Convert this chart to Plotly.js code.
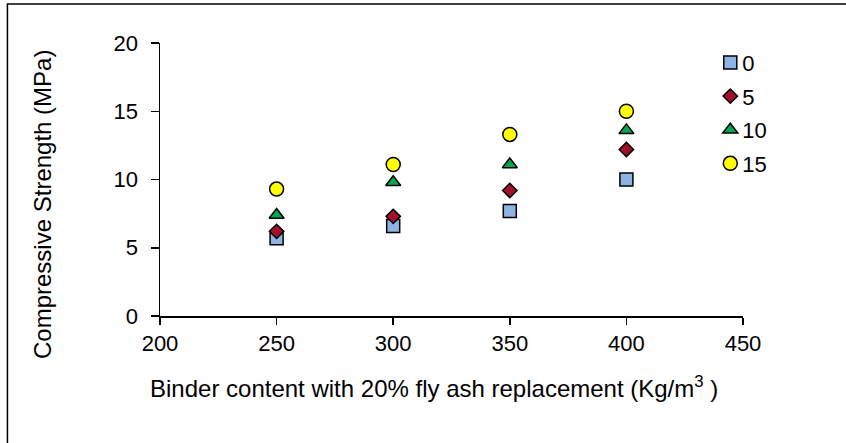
<!DOCTYPE html>
<html>
<head>
<meta charset="utf-8">
<script src="https://cdn.plot.ly/plotly-3.0.1.min.js"></script>
<style>
  html, body { margin: 0; padding: 0; background: #ffffff; }
  #chart { width: 846px; height: 443px; }
</style>
</head>
<body>
<div id="chart"></div>
<script>
// Binder content (kg/m3) on the x axis
const binderContent = [250, 300, 350, 400];

// Fly ash replacement levels shown in the legend
const seriesNames = ['0', '5', '10', '15'];

// Compressive strength (MPa) for each replacement level
const strength0  = [5.7, 6.6, 7.7, 10.0];
const strength5  = [6.2, 7.3, 9.2, 12.2];
const strength10 = [7.4, 9.8, 11.1, 13.6];
const strength15 = [9.3, 11.1, 13.3, 15.0];

const xTicks = [200, 250, 300, 350, 400, 450];
const yTicks = [0, 5, 10, 15, 20];

const xTitle = 'Binder content with 20% fly ash replacement (Kg/m<sup>3</sup> )';
const yTitle = 'Compressive Strength (MPa)';

const FONT = 'Liberation Sans, Arial, sans-serif';
const FS = 22;       // ticks and legend
const FS_TITLE = 24; // axis titles

const styles = [
  { symbol: 'square',       size: 13, color: '#8DB4E2' },
  { symbol: 'diamond',      size: 11, color: '#A50F2D' },
  { symbol: 'triangle-up',  size: 13, color: '#00A651' },
  { symbol: 'circle',       size: 14, color: '#FFFF00' }
];

const values = [strength0, strength5, strength10, strength15];

const traces = values.map((ys, i) => ({
  type: 'scatter',
  mode: 'markers',
  name: seriesNames[i],
  legendgroup: 'g' + i,
  x: binderContent,
  y: ys,
  marker: {
    symbol: styles[i].symbol,
    size: styles[i].size,
    color: styles[i].color,
    line: { color: '#000000', width: 1.5 }
  },
  hoverinfo: 'x+y+name'
}));

// Plot area in pixels, used to place the frame and titles in paper units
const L = 160, R = 103.3, T = 43.3, B = 127.3;
const W = 846 - L - R, H = 443 - T - B;
const px = v => (v - L) / W;
const py = v => (443 - B - v) / H;

const axisCommon = {
  ticks: 'outside',
  tickwidth: 1.5,
  tickcolor: '#000000',
  showline: true,
  linecolor: '#000000',
  linewidth: 1.5,
  showgrid: false,
  zeroline: false,
  tickfont: { family: FONT, size: FS, color: '#000000' },
  fixedrange: true
};

const layout = {
  width: 846,
  height: 443,
  margin: { l: L, r: R, t: T, b: B, pad: 0 },
  paper_bgcolor: '#ffffff',
  plot_bgcolor: '#ffffff',
  font: { family: FONT, size: FS, color: '#000000' },
  showlegend: true,
  legend: {
    x: px(710), y: py(42), xanchor: 'left', yanchor: 'top',
    font: { family: FONT, size: FS, color: '#000000' },
    bgcolor: 'rgba(0,0,0,0)',
    tracegroupgap: 2,
    itemwidth: 30
  },
  xaxis: Object.assign({
    range: [200, 450],
    tickvals: xTicks,
    ticktext: xTicks.map(String),
    ticklen: 7
  }, axisCommon),
  yaxis: Object.assign({
    range: [0, 20],
    tickvals: yTicks,
    ticktext: yTicks.map(String),
    ticklen: 8,
    ticklabelstandoff: 8
  }, axisCommon),
  annotations: [
    {
      text: xTitle, showarrow: false,
      xref: 'paper', yref: 'paper',
      x: px(434), y: py(387), xanchor: 'center', yanchor: 'middle',
      font: { family: FONT, size: FS_TITLE, color: '#000000' }
    },
    {
      text: yTitle, showarrow: false, textangle: -90,
      xref: 'paper', yref: 'paper',
      x: px(42), y: py(204), xanchor: 'center', yanchor: 'middle',
      font: { family: FONT, size: FS_TITLE, color: '#000000' }
    }
  ],
  shapes: [
    {
      type: 'rect', xref: 'paper', yref: 'paper',
      x0: px(7.5), x1: px(870), y0: py(470), y1: py(4.5),
      line: { color: '#000000', width: 1.5 },
      fillcolor: 'rgba(0,0,0,0)',
      layer: 'below'
    }
  ]
};

Plotly.newPlot('chart', traces, layout, { displayModeBar: false, staticPlot: true })
  .then(gd => {
    // pull the legend labels a little closer to their symbols
    gd.querySelectorAll('.legend .legendtext').forEach(t => {
      const x = parseFloat(t.getAttribute('x')) || 0;
      t.setAttribute('x', x - 8);
    });
  });
</script>
</body>
</html>
